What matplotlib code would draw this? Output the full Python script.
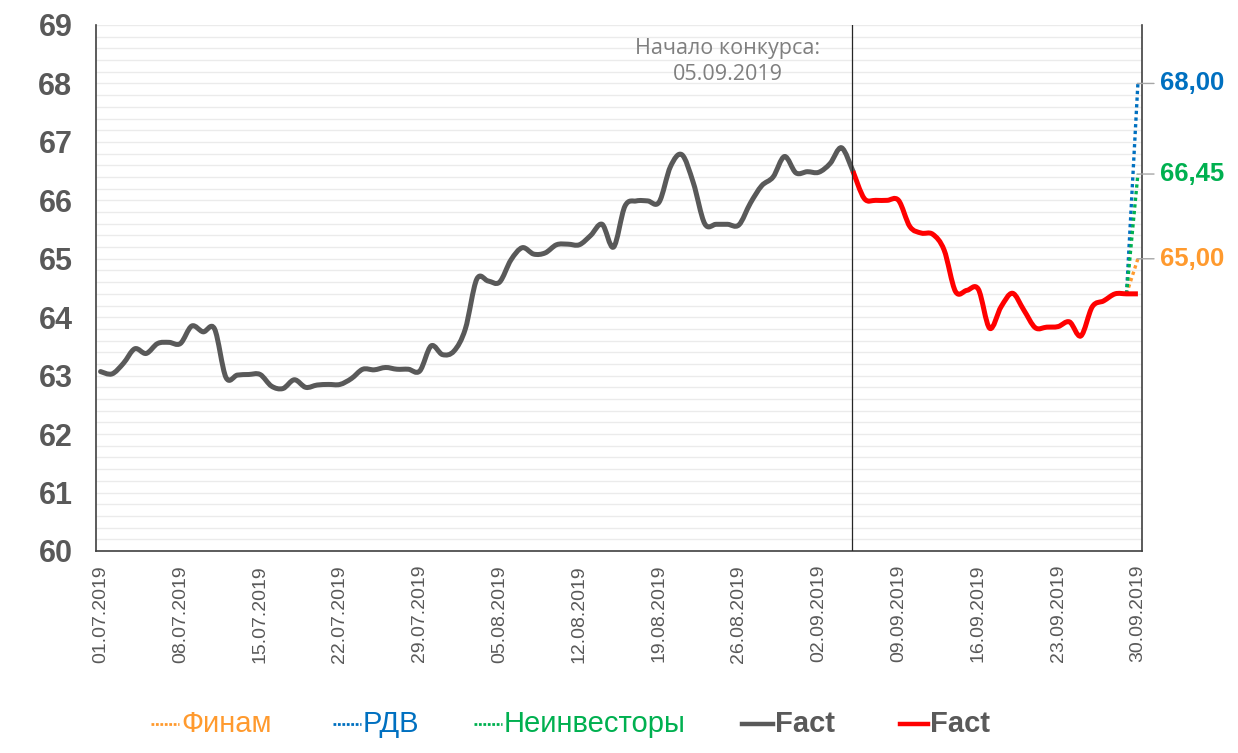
import numpy as np
import pandas as pd
import matplotlib
matplotlib.use("Agg")
import matplotlib.pyplot as plt
from matplotlib.path import Path
from matplotlib.patches import PathPatch
from matplotlib.lines import Line2D

# ---------------- data ----------------
dates = pd.date_range("2019-07-01", "2019-09-30", freq="D")
fact_values = [
    63.07, 63.03, 63.21, 63.46, 63.38, 63.55, 63.57, 63.55, 63.85, 63.75,
    63.80, 62.97, 63.01, 63.02, 63.02, 62.82, 62.78, 62.93, 62.80, 62.84,
    62.85, 62.85, 62.95, 63.11, 63.10, 63.14, 63.11, 63.11, 63.08, 63.51,
    63.36, 63.42, 63.80, 64.65, 64.62, 64.60, 64.98, 65.19, 65.08, 65.10,
    65.24, 65.25, 65.24, 65.40, 65.59, 65.20, 65.90, 65.99, 65.99, 65.97,
    66.58, 66.78, 66.30, 65.60, 65.59, 65.59, 65.58, 65.95, 66.25, 66.40,
    66.75, 66.47, 66.49, 66.48, 66.63, 66.90, 66.50, 66.03, 66.00, 66.00,
    66.00, 65.55, 65.44, 65.42, 65.15, 64.44, 64.46, 64.48, 63.81, 64.18,
    64.41, 64.12, 63.82, 63.83, 63.84, 63.92, 63.68, 64.18, 64.28, 64.40,
    64.40, 64.40,
]
contest_start = "2019-09-05"
forecast_names = ["Финам", "РДВ", "Неинвесторы"]
forecast_values = [65.00, 68.00, 66.45]
forecast_labels = ["65,00", "68,00", "66,45"]
tick_labels = ["01.07.2019", "08.07.2019", "15.07.2019", "22.07.2019", "29.07.2019",
               "05.08.2019", "12.08.2019", "19.08.2019", "26.08.2019", "02.09.2019",
               "09.09.2019", "16.09.2019", "23.09.2019", "30.09.2019"]

# ---------------- style ----------------
GRAY = "#595959"
RED = "#FF0000"
F_COLORS = ["#FF9A2E", "#0070C0", "#00B050"]
FONT = "Liberation Sans"

x = np.asarray((dates - dates[0]).days, dtype=float)
y = np.asarray(fact_values)
split = int((pd.Timestamp(contest_start) - dates[0]).days)


def smooth_path(xs, ys):
    """Excel-like smoothed line: cubic Bezier through the data points."""
    n = len(xs)
    verts = [(xs[0], ys[0])]
    codes = [Path.MOVETO]
    for i in range(n - 1):
        a = i - 1 if i > 0 else i
        d = i + 2 if i + 2 < n else i + 1
        c1 = (xs[i] + (xs[i + 1] - xs[a]) / 6.0, ys[i] + (ys[i + 1] - ys[a]) / 6.0)
        c2 = (xs[i + 1] - (xs[d] - xs[i]) / 6.0, ys[i + 1] - (ys[d] - ys[i]) / 6.0)
        verts += [c1, c2, (xs[i + 1], ys[i + 1])]
        codes += [Path.CURVE4] * 3
    return Path(verts, codes)


fig = plt.figure(figsize=(12.38, 7.53), dpi=100)
ax = fig.add_axes([96 / 1238, 1 - 551 / 753, (1142 - 96) / 1238, (551 - 25) / 753])

ax.set_ylim(60, 69)
ax.set_xlim(-0.4, 91.36)

# grid every 0.2
for gv in np.arange(60.2, 69.01, 0.2):
    ax.axhline(gv, color="#EBEBEB", lw=1.0, zorder=0)

# forecasts (dotted)
last = len(x) - 1
for name, val, col in zip(forecast_names, forecast_values, F_COLORS):
    ax.plot([x[last - 1], x[last]], [y[last - 1], val], color=col, lw=2.4,
            ls=(0, (1, 1)), solid_capstyle="butt", dash_capstyle="butt", zorder=2)

# fact lines
ax.add_patch(PathPatch(smooth_path(x[:split + 1], y[:split + 1]), fill=False,
                       ec=GRAY, lw=3.6, capstyle="round", joinstyle="round", zorder=3))
ax.add_patch(PathPatch(smooth_path(x[split:], y[split:]), fill=False,
                       ec=RED, lw=3.6, capstyle="butt", joinstyle="round", zorder=4))

# contest start line
ax.axvline(x[split] - 0.1, color="#262626", lw=0.9, zorder=5)
ax.text(0.604, 0.931, "Начало конкурса:\n05.09.2019", transform=ax.transAxes,
        ha="center", va="center", fontsize=15.5, color="#7F7F7F",
        family="Open Sans", linespacing=1.3)

# forecast labels
for val, lab, col in zip(forecast_values, forecast_labels, F_COLORS):
    ax.annotate(lab, xy=(x[last] - 0.05, val), xytext=(x[last] + 1.9, val),
                textcoords="data", ha="left", va="center", fontsize=18.5,
                fontweight="bold", color=col, family=FONT, annotation_clip=False,
                arrowprops=dict(arrowstyle="-", color="#A6A6A6", lw=1.0,
                                shrinkA=2, shrinkB=0))

# axes
ax.set_yticks(range(60, 70))
ax.set_yticklabels([str(v) for v in range(60, 70)], fontsize=22, fontweight="bold",
                   color=GRAY, family=FONT)
tick_pos = [(pd.Timestamp(pd.to_datetime(t, format="%d.%m.%Y")) - dates[0]).days
            for t in tick_labels]
ax.set_xticks(tick_pos)
ax.set_xticklabels(tick_labels, rotation=90, fontsize=14, color=GRAY, family=FONT)
ax.tick_params(axis="both", length=0)
ax.tick_params(axis="y", pad=17)
ax.tick_params(axis="x", pad=10)
for s in ["left", "bottom", "right"]:
    ax.spines[s].set_color("#404040")
    ax.spines[s].set_linewidth(1.2)
ax.spines["top"].set_visible(False)

# legend (manual, in figure coords)
W, H = 1238.0, 753.0
ly = 1 - 724 / H
items = [
    (151, 179, F_COLORS[0], (0, (1, 0.6)), 2.0, "Финам", F_COLORS[0], "normal"),
    (333, 361, F_COLORS[1], (0, (1, 0.6)), 2.0, "РДВ", F_COLORS[1], "normal"),
    (474, 502, F_COLORS[2], (0, (1, 0.6)), 2.0, "Неинвесторы", F_COLORS[2], "normal"),
    (742, 773, GRAY, "-", 3.2, "Fact", GRAY, "bold"),
    (900, 928, RED, "-", 3.2, "Fact", GRAY, "bold"),
]
for x0, x1, c, ls, lw, txt, tc, fw in items:
    fig.add_artist(Line2D([x0 / W, x1 / W], [ly, ly], color=c, ls=ls, lw=lw,
                          transform=fig.transFigure))
    fig.text((x1 + 2) / W, ly, txt, ha="left", va="center", fontsize=21,
             color=tc, fontweight=fw, family=FONT)

fig.savefig("out.png", dpi=100)
